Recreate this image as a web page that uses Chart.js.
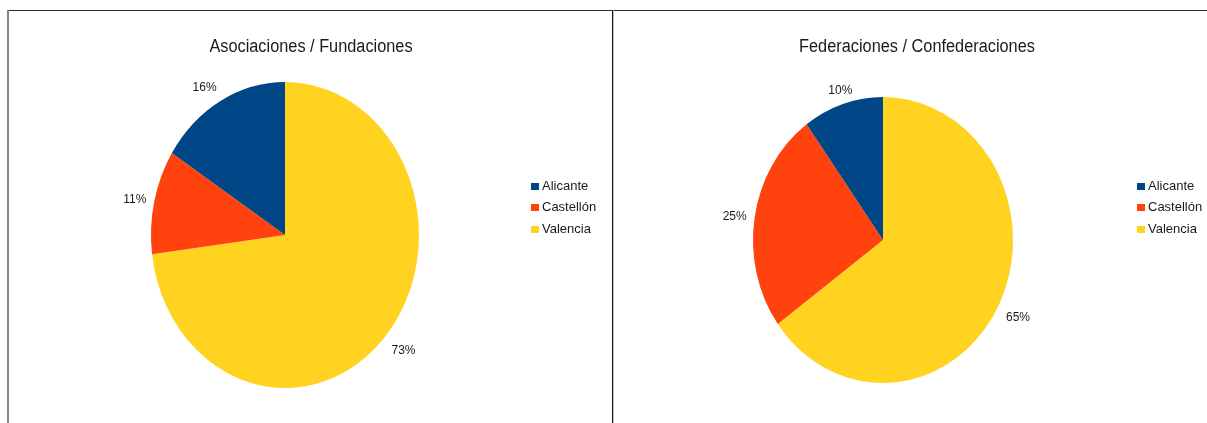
<!DOCTYPE html>
<html>
<head>
<meta charset="utf-8">
<script src="https://cdn.jsdelivr.net/npm/chart.js@4"></script>
<style>
html,body{margin:0;padding:0;background:#fff;width:1207px;height:423px;overflow:hidden;font-family:"Liberation Sans",Arial,sans-serif;}
.abs{position:absolute;}
canvas{position:absolute;top:0;}
.title{position:absolute;font-size:16px;color:#1a1a1a;white-space:nowrap;transform:translateX(-50%) scale(1.02,1.1);}
.legend{position:absolute;font-size:13px;color:#1a1a1a;}
.legend .row{height:21.3px;line-height:21.3px;white-space:nowrap;position:relative;}
.legend .sw{display:inline-block;width:8px;height:7px;margin-right:3px;vertical-align:0px;}
</style>
</head>
<body>
<canvas id="c1" width="612" height="423" style="left:0"></canvas>
<canvas id="c2" width="595" height="423" style="left:612px"></canvas>
<div class="abs" style="left:8px;top:10px;width:1199px;height:1px;background:#2a2a2a"></div>
<div class="abs" style="left:7px;top:10px;width:2px;height:413px;background:#888"></div>
<div class="abs" style="left:612px;top:10px;width:1px;height:413px;background:#1a1a1a"></div>
<div class="abs" style="left:613px;top:10px;width:1px;height:413px;background:#bbb"></div>
<div class="title" id="t1" style="left:311px;top:38px"></div>
<div class="title" id="t2" style="left:917px;top:38px"></div>
<div class="legend" id="l1" style="left:531px;top:175px"></div>
<div class="legend" id="l2" style="left:1137px;top:175px"></div>
<script>
// Data
const categories = ["Alicante", "Castellón", "Valencia"];
const colors = ["#004586", "#ff420e", "#ffd320"];
const titles = ["Asociaciones / Fundaciones", "Federaciones / Confederaciones"];
const asociacionesValues = [16, 11, 73];
const federacionesValues = [10, 25, 65];

// Reverse for clockwise drawing order (Valencia first from 12 o'clock)
function rev(a){ return a.slice().reverse(); }

const ellipsePlugin = {
  id: 'ellipse',
  beforeDatasetsDraw(chart) {
    const sy = chart.options.plugins.ellipse.sy;
    const arc = chart.getDatasetMeta(0).data[0];
    const ctx = chart.ctx;
    ctx.save();
    ctx.translate(arc.x, arc.y);
    ctx.scale(1, sy);
    ctx.translate(-arc.x, -arc.y);
  },
  afterDatasetsDraw(chart) {
    chart.ctx.restore();
    const sy = chart.options.plugins.ellipse.sy;
    const ctx = chart.ctx;
    const ds = chart.data.datasets[0];
    const total = ds.data.reduce((a, b) => a + b, 0);
    ctx.save();
    ctx.font = '12px "Liberation Sans", Arial, sans-serif';
    ctx.fillStyle = '#1a1a1a';
    chart.getDatasetMeta(0).data.forEach((el, i) => {
      const a = (el.startAngle + el.endAngle) / 2;
      const R = el.outerRadius;
      const ux = Math.cos(a), uy = Math.sin(a);
      const g = 8;
      const px = el.x + R * ux + ux * g;
      const py = el.y + R * sy * uy + uy * g;
      ctx.textAlign = Math.abs(ux) < 0.35 ? 'center' : (ux < 0 ? 'right' : 'left');
      ctx.textBaseline = uy < -0.3 ? 'bottom' : (uy > 0.3 ? 'top' : 'middle');
      const pct = Math.round(ds.data[i] / total * 100) + '%';
      ctx.fillText(pct, px, py + (uy > 0.3 ? 3 : 0));
    });
    ctx.restore();
  }
};

function makePie(id, values, padding, sy) {
  new Chart(document.getElementById(id), {
    type: 'pie',
    data: {
      labels: rev(categories),
      datasets: [{ data: rev(values), backgroundColor: rev(colors), borderWidth: 0 }]
    },
    options: {
      responsive: false,
      animation: false,
      layout: { padding: padding },
      plugins: {
        legend: { display: false },
        tooltip: { enabled: false },
        title: { display: false },
        ellipse: { sy: sy }
      }
    },
    plugins: [ellipsePlugin]
  });
}

makePie('c1', asociacionesValues, { left: 151, right: 193, top: 101, bottom: 54 }, 1.142);
makePie('c2', federacionesValues, { left: 141, right: 194, top: 110, bottom: 53 }, 1.1);

document.getElementById('t1').textContent = titles[0];
document.getElementById('t2').textContent = titles[1];
['l1', 'l2'].forEach(id => {
  const el = document.getElementById(id);
  categories.forEach((c, i) => {
    const row = document.createElement('div');
    row.className = 'row';
    const sw = document.createElement('span');
    sw.className = 'sw';
    sw.style.background = colors[i];
    row.appendChild(sw);
    row.appendChild(document.createTextNode(c));
    el.appendChild(row);
  });
});
</script>
</body>
</html>
